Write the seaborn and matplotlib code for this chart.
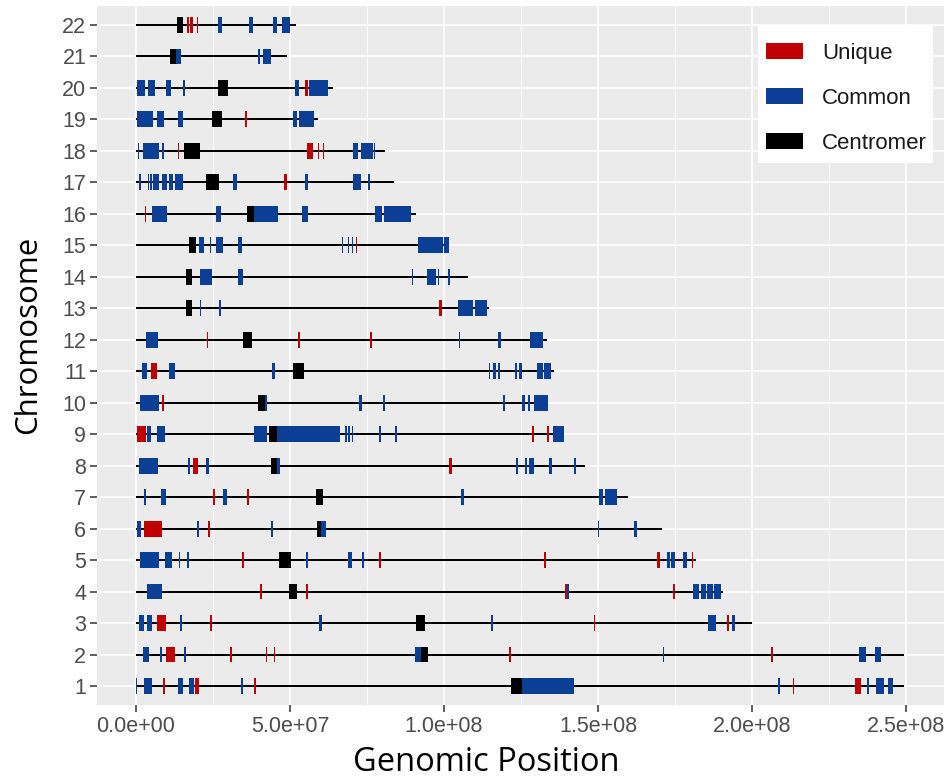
import matplotlib
matplotlib.use('Agg')
import matplotlib.pyplot as plt
import seaborn as sns
import pandas as pd
from matplotlib.patches import Patch, Rectangle
from matplotlib.ticker import FuncFormatter

# chromosome lengths (Mb), chr1 .. chr22
chrom_ids = list(range(1, 23))
chrom_len = [249.3, 249.5, 199.9, 190.7, 181.8, 170.7, 159.8, 145.8, 139.0, 133.6, 135.7,
             133.6, 114.7, 107.9, 101.7, 90.8, 83.9, 80.8, 59.0, 63.9, 48.9, 51.8]

# regions (Mb) per chromosome
common = {
    1: [(0.1, 0.4), (2.7, 5.1), (13.8, 15.4), (17.3, 18.8), (34.0, 34.7), (125.2, 142.2),
        (208.3, 209.0), (237.4, 238.0), (240.2, 242.7), (244.0, 245.7)],
    2: [(2.3, 4.3), (7.8, 8.4), (15.7, 16.3), (90.7, 92.4), (171.0, 171.4), (234.8, 237.1), (239.8, 242.0)],
    3: [(1.0, 2.7), (3.5, 5.1), (14.3, 14.9), (59.5, 60.5), (115.4, 115.8), (185.6, 188.3), (193.4, 194.5)],
    4: [(3.5, 8.5), (139.9, 140.5), (181.0, 182.9), (183.3, 185.1), (185.5, 187.2), (187.6, 190.1)],
    5: [(1.3, 7.6), (9.4, 11.6), (13.9, 14.3), (16.7, 17.3), (55.2, 56.0), (69.0, 70.0), (73.3, 74.1),
        (172.5, 173.3), (173.7, 174.3), (174.5, 175.0), (177.5, 178.8)],
    6: [(0.4, 1.5), (19.7, 20.6), (44.0, 44.6), (60.0, 61.7), (150.0, 150.3), (161.7, 162.8)],
    7: [(2.6, 3.2), (8.0, 9.7), (28.4, 29.4), (105.5, 106.5), (150.4, 151.5), (152.3, 156.3)],
    8: [(1.1, 7.0), (17.0, 17.6), (22.7, 23.6), (45.7, 46.8), (123.3, 123.9), (126.4, 127.0),
        (127.6, 129.2), (134.2, 135.0), (142.3, 142.9)],
    9: [(3.7, 4.8), (6.7, 9.4), (38.4, 42.7), (45.7, 66.2), (67.9, 68.5), (69.0, 69.6), (70.0, 70.6),
        (78.9, 79.5), (84.0, 84.6), (135.3, 139.0)],
    10: [(1.3, 7.6), (41.9, 42.4), (72.5, 73.5), (80.1, 80.8), (119.2, 119.8), (125.2, 126.3),
         (127.4, 128.0), (129.2, 133.7)],
    11: [(1.8, 3.5), (10.8, 12.7), (44.3, 45.1), (114.5, 114.8), (116.0, 116.9), (117.4, 118.2),
         (123.0, 123.8), (124.5, 125.2), (130.3, 132.3), (132.6, 134.7)],
    12: [(3.2, 7.3), (104.8, 105.2), (117.7, 118.4), (127.9, 132.0)],
    13: [(20.8, 21.2), (27.1, 27.5), (104.7, 109.5), (110.1, 114.0)],
    14: [(20.8, 24.6), (33.2, 34.8), (89.5, 90.1), (94.4, 97.4), (97.9, 98.5), (101.3, 101.9)],
    15: [(20.5, 22.2), (24.0, 24.4), (26.0, 28.1), (33.0, 34.3), (66.9, 67.3), (68.7, 69.1),
         (70.1, 70.5), (91.7, 99.8), (100.0, 101.7)],
    16: [(5.1, 10.0), (25.9, 27.5), (38.3, 46.2), (54.0, 56.0), (77.6, 80.0), (80.6, 89.2)],
    17: [(1.0, 1.6), (3.8, 4.2), (4.7, 5.1), (5.4, 7.6), (8.5, 10.0), (10.7, 11.9), (12.7, 15.4),
         (31.6, 32.9), (54.9, 56.0), (70.3, 72.9), (75.3, 75.9)],
    18: [(0.5, 1.0), (2.2, 7.6), (8.6, 9.2), (70.3, 72.2), (72.9, 76.8), (77.3, 77.7)],
    19: [(0.4, 5.6), (6.7, 9.2), (13.5, 15.4), (50.9, 52.4), (53.0, 57.8)],
    20: [(0.2, 2.9), (4.0, 6.2), (9.6, 11.3), (15.4, 16.0), (51.6, 52.9), (56.3, 62.4)],
    21: [(13.0, 14.5), (39.7, 40.3), (41.3, 44.0)],
    22: [(26.5, 28.0), (36.8, 37.9), (44.4, 45.9), (47.3, 50.0)],
}

unique = {
    1: [(8.8, 9.3), (19.3, 20.4), (38.4, 39.0), (213.4, 213.8), (233.6, 235.5)],
    2: [(9.8, 12.6), (30.6, 31.2), (42.3, 42.7), (44.8, 45.2), (121.1, 121.7), (206.2, 206.8)],
    3: [(6.8, 9.6), (24.0, 24.6), (148.6, 149.0), (192.0, 192.5)],
    4: [(40.2, 40.8), (55.2, 55.8), (139.4, 139.9), (174.4, 175.0)],
    5: [(34.5, 35.1), (79.0, 79.5), (132.5, 133.1), (169.0, 170.1), (180.4, 180.8)],
    6: [(2.6, 8.3), (23.3, 24.1)],
    7: [(25.0, 25.6), (36.2, 36.8)],
    8: [(18.4, 20.2), (101.7, 102.5)],
    9: [(0.2, 3.1), (128.7, 129.3), (133.6, 134.2)],
    10: [(8.3, 9.2)],
    11: [(4.8, 6.7)],
    12: [(22.9, 23.5), (52.7, 53.3), (76.0, 76.6)],
    13: [(98.4, 99.5)],
    15: [(71.4, 71.8)],
    16: [(3.0, 3.4)],
    17: [(48.2, 49.0)],
    18: [(13.5, 13.9), (55.4, 57.6), (59.0, 59.5), (60.6, 61.1)],
    19: [(35.4, 36.0)],
    20: [(54.9, 56.0)],
    22: [(16.5, 17.3), (17.6, 18.4), (19.7, 20.3)],
}

centromere = {
    1: (121.8, 125.2), 2: (92.4, 94.9), 3: (91.0, 93.7), 4: (49.7, 52.2), 5: (46.5, 50.2),
    6: (58.7, 60.0), 7: (58.3, 60.8), 8: (44.0, 45.7), 9: (43.3, 45.7), 10: (39.7, 41.9),
    11: (51.1, 54.5), 12: (34.8, 37.6), 13: (16.1, 18.1), 14: (16.1, 18.2), 15: (17.3, 19.5),
    16: (35.9, 38.3), 17: (22.7, 27.1), 18: (15.6, 20.9), 19: (24.8, 27.8), 20: (26.5, 30.0),
    21: (11.0, 13.0), 22: (13.2, 15.2),
}

colors = {'Unique': '#C00000', 'Common': '#0B3F96', 'Centromer': '#000000'}
xtick_pos = [0, 5e7, 1e8, 1.5e8, 2e8, 2.5e8]

sns.set_theme(style='darkgrid', rc={
    'axes.facecolor': '#EBEBEB',
    'grid.color': 'white',
    'xtick.bottom': True,
    'ytick.left': True,
    'xtick.major.size': 5,
    'ytick.major.size': 5,
    'xtick.major.width': 1.1,
    'ytick.major.width': 1.1,
    'xtick.color': '#333333',
    'ytick.color': '#333333',
})


def to_df(regions, kind):
    rows = []
    for c, segs in regions.items():
        if isinstance(segs, tuple):
            segs = [segs]
        for s, e in segs:
            rows.append({'chrom': c, 'start': s * 1e6, 'end': e * 1e6, 'type': kind})
    return pd.DataFrame(rows)


segments = pd.concat([to_df(common, 'Common'), to_df(unique, 'Unique'),
                      to_df(centromere, 'Centromer')], ignore_index=True)
backbone = pd.DataFrame({'chrom': chrom_ids, 'length': [v * 1e6 for v in chrom_len]})

fig = plt.figure(figsize=(9.5, 7.8), dpi=100)
ax = fig.add_axes([0.1026, 0.0962, 0.8916, 0.8961])

# chromosome backbone
sns.barplot(data=backbone, x='length', y='chrom', orient='h', native_scale=True,
            width=0.065, color='black', saturation=1, linewidth=0, ax=ax)

for kind in ['Common', 'Unique', 'Centromer']:
    d = segments[segments['type'] == kind]
    ax.barh(d['chrom'], d['end'] - d['start'], left=d['start'], height=0.5,
            color=colors[kind], linewidth=0, zorder=3)

ax.set_xlim(-1.25e7, 2.625e8)
ax.set_ylim(0.4, 22.6)
ax.set_yticks(chrom_ids)
ax.set_yticklabels([str(c) for c in chrom_ids])
ax.set_xticks(xtick_pos)
ax.set_xticks([2.5e7, 7.5e7, 1.25e8, 1.75e8, 2.25e8], minor=True)
ax.xaxis.set_major_formatter(FuncFormatter(lambda v, p: f'{v:.1e}'))
ax.grid(which='major', color='white', linewidth=1.2)
ax.grid(which='minor', axis='x', color='white', linewidth=0.6)
ax.tick_params(axis='x', which='minor', length=0)
ax.tick_params(axis='both', which='major', pad=3)
for lab in ax.get_xticklabels() + ax.get_yticklabels():
    lab.set_fontfamily('Liberation Sans')
    lab.set_fontsize(15.5)
    lab.set_color('#4D4D4D')
for sp in ax.spines.values():
    sp.set_visible(False)

ax.set_xlabel('Genomic Position', fontfamily='Open Sans', fontsize=23.5, color='black')
ax.set_ylabel('Chromosome', fontfamily='Open Sans', fontsize=22.5, color='black')
ax.xaxis.label.set_va('baseline')
ax.yaxis.label.set_va('baseline')
ax.xaxis.set_label_coords((486 - 97.5) / 847, (705 - 771.5) / 699)
ax.yaxis.set_label_coords((36 - 97.5) / 847, (705 - 335) / 699)

# legend background box
ax.add_patch(Rectangle((758 / 950, 1 - 163 / 780), 175 / 950, 138 / 780,
                       transform=fig.transFigure, facecolor='white', edgecolor='none',
                       zorder=4, clip_on=False))
handles = [Patch(facecolor=colors[k], edgecolor='none', label=k) for k in ['Unique', 'Common', 'Centromer']]
leg = ax.legend(handles=handles, loc='upper right', bbox_to_anchor=(938 / 950, 1 - 31.5 / 780),
                bbox_transform=fig.transFigure, borderaxespad=0, frameon=False,
                prop={'family': 'Liberation Sans', 'size': 16},
                handlelength=1.67, handleheight=0.72, handletextpad=0.85,
                labelspacing=1.08, borderpad=0.5)
leg.set_zorder(6)
for t in leg.get_texts():
    t.set_color('#1A1A1A')

plt.savefig('out.png', dpi=100)
plt.close()
